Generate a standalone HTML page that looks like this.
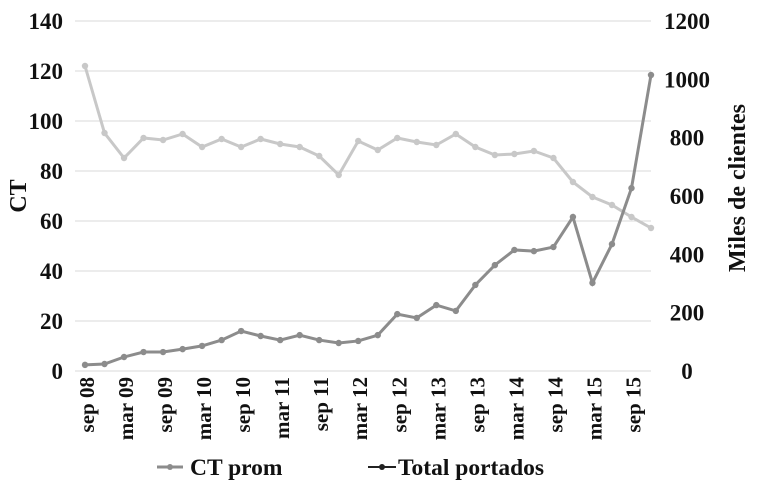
<!DOCTYPE html>
<html><head><meta charset="utf-8"><style>
body{margin:0;background:#fff;}
svg text{font-family:"Liberation Serif",serif;font-weight:bold;}
</style></head><body>
<svg id="chart" width="759" height="487" xmlns="http://www.w3.org/2000/svg"></svg>
<script>
const categories=["sep 08","dec 08","mar 09","jun 09","sep 09","dec 09","mar 10","jun 10","sep 10","dec 10","mar 11","jun 11","sep 11","dec 11","mar 12","jun 12","sep 12","dec 12","mar 13","jun 13","sep 13","dec 13","mar 14","jun 14","sep 14","dec 14","mar 15","jun 15","sep 15","dec 15"];
const lightSeries=[122,95.2,85.2,93.2,92.4,94.8,89.6,92.8,89.6,92.8,90.8,89.6,86,78.4,92,88.4,93.2,91.6,90.4,94.8,89.6,86.4,86.8,88,85.2,75.6,69.6,66.4,61.6,57.2];
const darkSeries=[21,24,48,65,65,75,86,106,137,120,106,123,106,96,103,123,195,182,226,206,295,363,415,411,425,528,302,435,627,1015];
const leftTicks=[0,20,40,60,80,100,120,140];
const rightTicks=[0,200,400,600,800,1000,1200];
const NS="http://www.w3.org/2000/svg";
const svg=document.getElementById('chart');
const X0=85,X1=651,YT=21,YB=371;
const xs=i=>X0+i*(X1-X0)/(categories.length-1);
const yl=v=>YB-v/140*(YB-YT);
const yr=v=>YB-v/1200*(YB-YT);
function mk(t,a,txt){const e=document.createElementNS(NS,t);for(const k in a)e.setAttribute(k,a[k]);if(txt!==undefined)e.textContent=txt;svg.appendChild(e);return e;}
leftTicks.forEach(v=>{
 const g=mk('line',{x1:X0-10,x2:X1,y1:yl(v),y2:yl(v),stroke:'#d9d9d9','stroke-width':1});
 
 
 const t=mk('text',{x:63,y:yl(v)+8,'text-anchor':'end','font-size':23,fill:'#111'},v);
 
 
});
rightTicks.forEach(v=>{
 const t=mk('text',{x:687,y:yr(v)+8,'text-anchor':'middle','font-size':23,fill:'#111'},v);
 
 
});
categories.forEach((c,i)=>{
 if(i%2)return;
 const x=xs(i);
 const t=mk('text',{transform:`translate(${x+9},377) rotate(-90)`,'text-anchor':'end','font-size':21,fill:'#111'},c);
 
 
});
function series(vals,yf,color,name){
 const p=mk('polyline',{points:vals.map((v,i)=>xs(i)+','+yf(v)).join(' '),fill:'none',stroke:color,'stroke-width':3});
 
 
 vals.forEach((v,i)=>{
  const c=mk('circle',{cx:xs(i),cy:yf(v),r:3.2,fill:color});
  
  
 });
}
series(lightSeries,yl,'#c8c8c8','ct-prom');
series(darkSeries,yr,'#8c8c8c','total-portados');
const a=mk('text',{transform:'translate(26,196) rotate(-90)','text-anchor':'middle','font-size':24,fill:'#111'},'CT');

const b=mk('text',{transform:'translate(745,188) rotate(-90)','text-anchor':'middle','font-size':24,fill:'#111'},'Miles de clientes');

const l1=mk('line',{x1:157,x2:183,y1:467,y2:467,stroke:'#8c8c8c','stroke-width':3});

mk('circle',{cx:170,cy:467,r:3,fill:'#8c8c8c'});
const t1=mk('text',{x:190,y:475,'font-size':23.5,fill:'#111'},'CT prom');

const l2=mk('line',{x1:368,x2:396,y1:467,y2:467,stroke:'#222','stroke-width':2});

mk('circle',{cx:382,cy:467,r:3,fill:'#222'});
const t2=mk('text',{x:398,y:475,'font-size':23.5,fill:'#111'},'Total portados');

</script>
</body></html>
